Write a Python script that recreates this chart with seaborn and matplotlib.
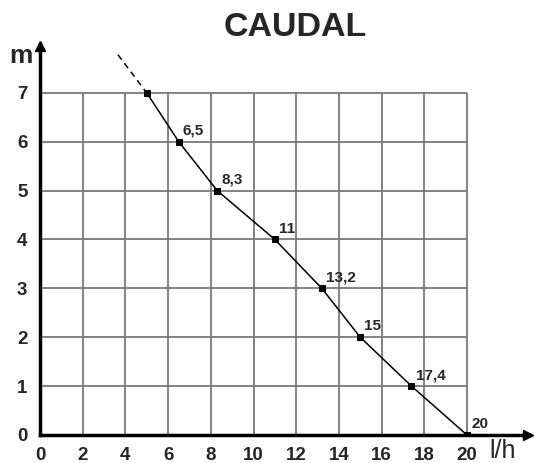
import numpy as np
import pandas as pd
import matplotlib
matplotlib.use("Agg")
import matplotlib.pyplot as plt
import seaborn as sns

# data (flow in l/h vs head in m)
caudal = [5, 6.5, 8.3, 11, 13.2, 15, 17.4, 20]
altura = [7, 6, 5, 4, 3, 2, 1, 0]
etiquetas = ["", "6,5", "8,3", "11", "13,2", "15", "17,4", "20"]
# dashed extension above the first point
ext_x = [3.65, 5]
ext_y = [7.78, 7]

x_ticks = [0, 2, 4, 6, 8, 10, 12, 14, 16, 18, 20]
y_ticks = [0, 1, 2, 3, 4, 5, 6, 7]

sns.set_style("white")
plt.rcParams["font.family"] = ["Liberation Sans", "DejaVu Sans"]

df = pd.DataFrame({"caudal": caudal, "altura": altura})

fig = plt.figure(figsize=(5.34, 4.63), dpi=100)
ax = fig.add_axes([0.0749, 0.0605, 0.9176, 0.8445])

# grid only inside the data box
ax.vlines(x_ticks[1:], 0, max(y_ticks), color="#7a7a7a", lw=1.3, zorder=1)
ax.hlines(y_ticks[1:], 0, max(x_ticks), color="#7a7a7a", lw=1.3, zorder=1)

sns.lineplot(data=df, x="caudal", y="altura", color="black", lw=1.1,
             marker="s", markersize=5, markeredgecolor="black",
             ax=ax, zorder=3, sort=False)
ax.plot(ext_x, ext_y, color="black", lw=1.1, ls=(0, (4, 3)), zorder=3)

for xv, yv, lab in zip(caudal, altura, etiquetas):
    if lab:
        ax.annotate(lab, (xv, yv), xytext=(3, 5), textcoords="offset points",
                    ha="left", va="baseline", fontsize=11, fontweight="bold")

ax.set_xlim(0, 22.95)
ax.set_ylim(0, 8)
ax.set_xticks(x_ticks)
ax.set_yticks(y_ticks)
ax.tick_params(axis="both", labelsize=13.5, length=5, width=2, direction="out",
               color="black", pad=4)
for t in ax.get_xticklabels() + ax.get_yticklabels():
    t.set_fontweight("bold")
ax.set_xlabel("")
ax.set_ylabel("")

for s in ["top", "right"]:
    ax.spines[s].set_visible(False)
for s in ["left", "bottom"]:
    ax.spines[s].set_linewidth(2.5)
    ax.spines[s].set_color("black")

# arrow heads on the axes
ax.plot(0.995, 0, ">k", markersize=7, transform=ax.get_yaxis_transform(), clip_on=False)
ax.plot(0, 0.995, "^k", markersize=7, transform=ax.get_xaxis_transform(), clip_on=False)

ax.text(-0.016, 0.951, "m", transform=ax.transAxes, fontsize=19, fontweight="bold",
        ha="right", va="baseline")
ax.text(0.918, -0.06, "l/h", transform=ax.transAxes, fontsize=18,
        ha="left", va="baseline")

fig.text(0.553, 0.94, "CAUDAL", fontsize=24.5, fontweight="bold", ha="center", va="center")

fig.savefig("out.png", dpi=100)
